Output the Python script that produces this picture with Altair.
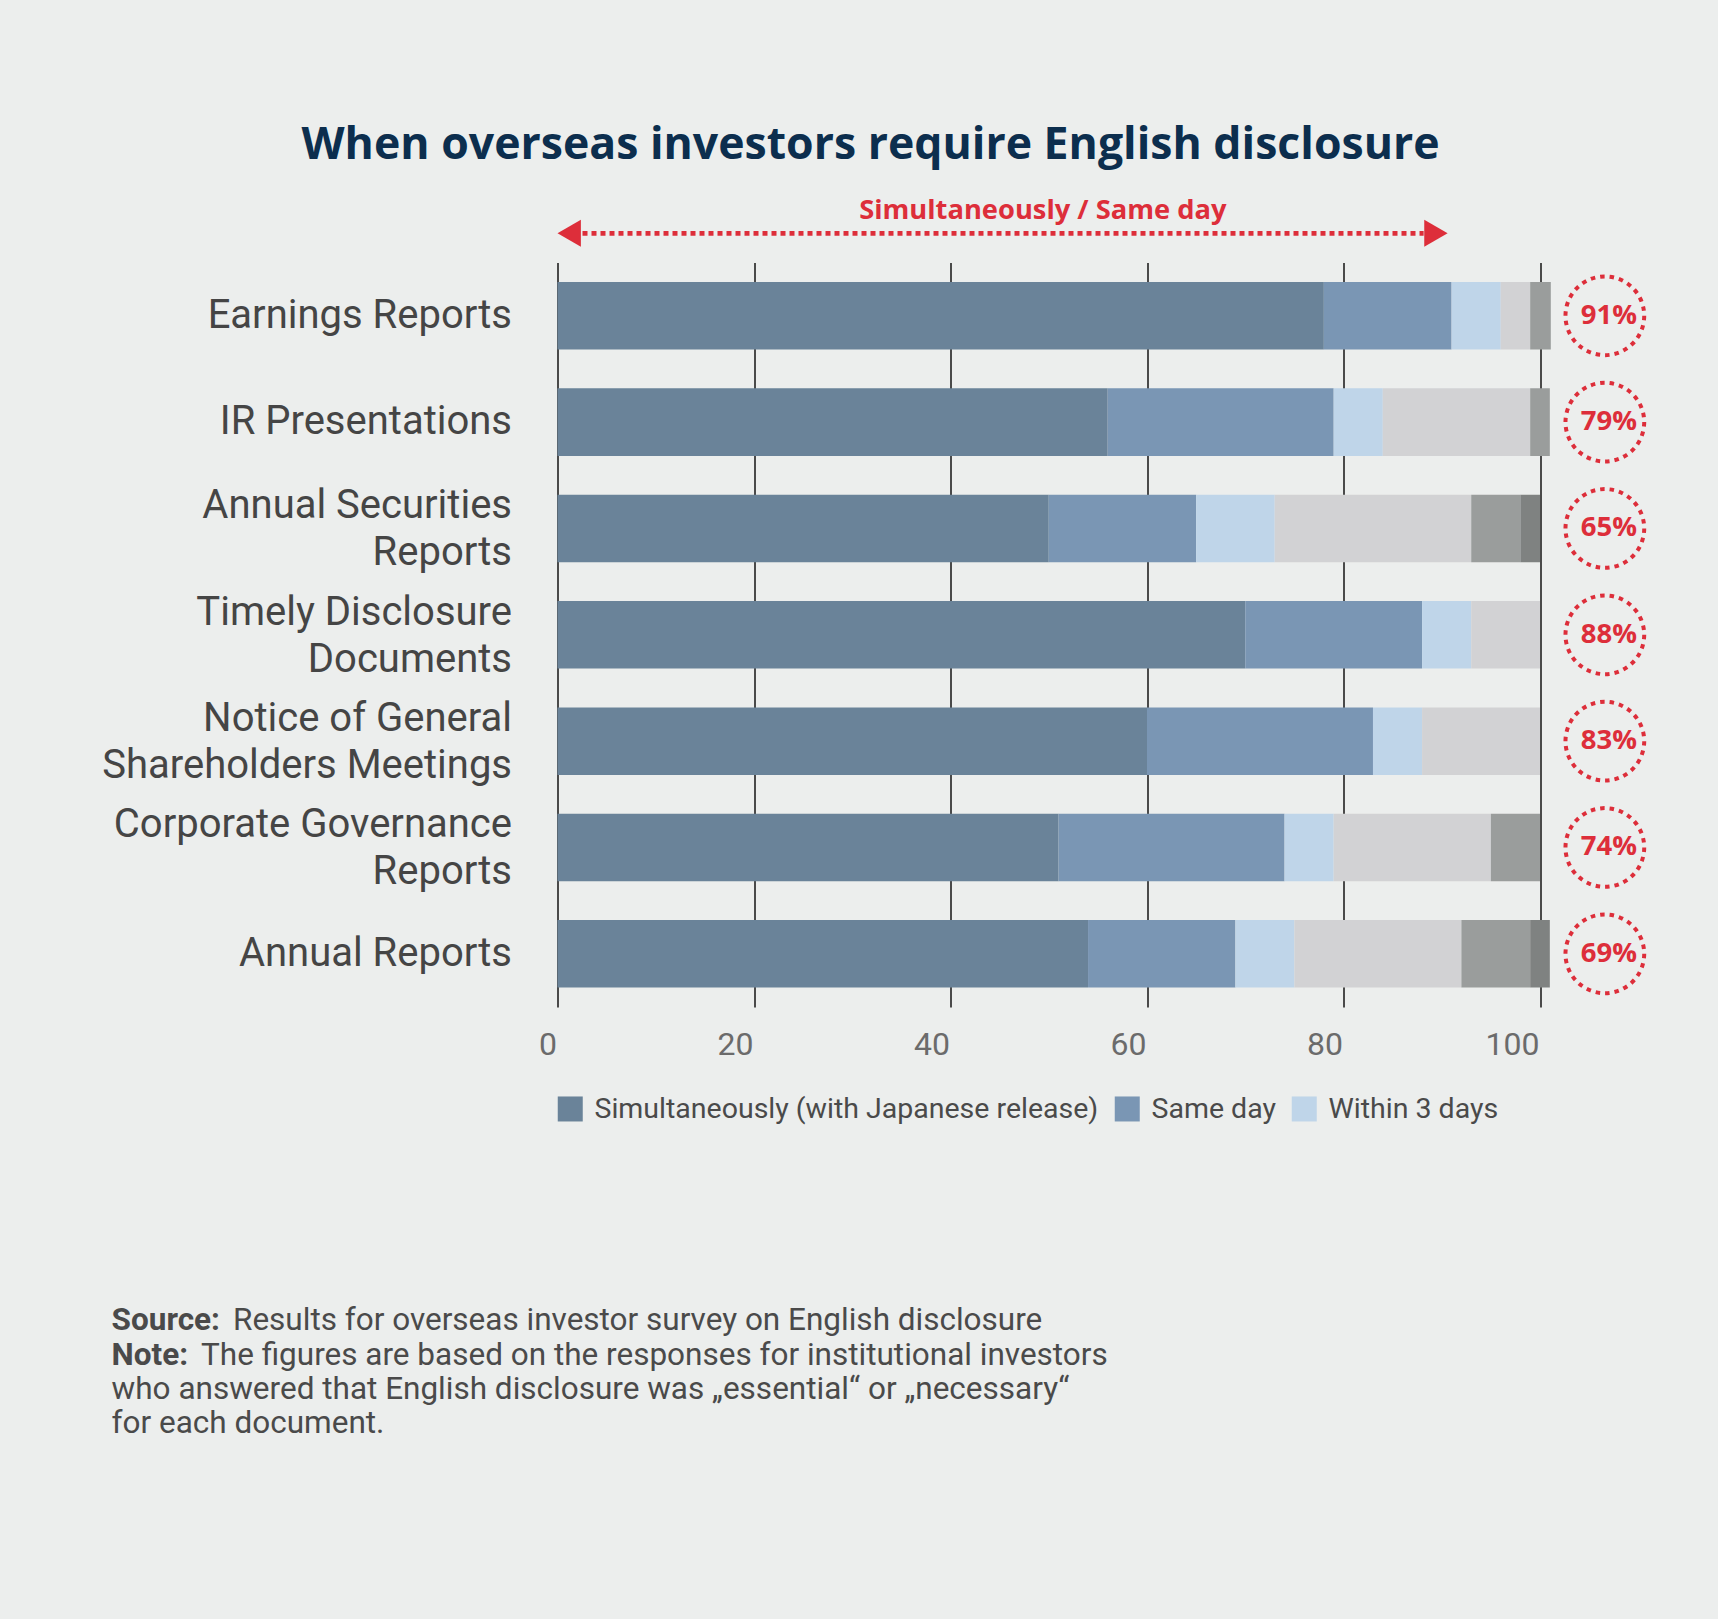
import altair as alt
import pandas as pd

# ---------------- data ----------------
categories = [
    "Earnings Reports",
    "IR Presentations",
    "Annual Securities\nReports",
    "Timely Disclosure\nDocuments",
    "Notice of General\nShareholders Meetings",
    "Corporate Governance\nReports",
    "Annual Reports",
]
segments = [
    "Simultaneously (with Japanese release)",
    "Same day",
    "Within 3 days",
    "Later (light grey)",
    "Later (grey)",
    "Later (dark grey)",
]
simultaneously = [78, 56, 50, 70, 60, 51, 54]
same_day = [13, 23, 15, 18, 23, 23, 15]
within_3_days = [5, 5, 8, 5, 5, 5, 6]
later_light = [3, 15, 20, 7, 12, 16, 17]
later_mid = [2.1, 2, 5, 0, 0, 5, 7]
later_dark = [0, 0, 2, 0, 0, 0, 2]
pct_labels = ["91%", "79%", "65%", "88%", "83%", "74%", "69%"]
x_ticks = [0, 20, 40, 60, 80, 100]
arrow_label = "Simultaneously / Same day"
arrow_span = [0, 90.6]
arrow_label_x = 49.4
badge_x = 106.6
title_text = "When overseas investors require English disclosure"
footnote_bold = ["Source:", "Note:"]
footnote_rest = [
    "Results for overseas investor survey on English disclosure",
    "The figures are based on the responses for institutional investors",
    "who answered that English disclosure was \u201eessential\u201c or \u201enecessary\u201c",
    "for each document.",
]

colors = ["#6a8399", "#7a96b4", "#bfd5e9", "#d2d2d4", "#9a9d9c", "#7f8281"]
RED = "#dd2e3a"
BG = "#eceeed"

series = [simultaneously, same_day, within_3_days, later_light, later_mid, later_dark]
rows = []
for si, (seg, vals) in enumerate(zip(segments, series)):
    for cat, v in zip(categories, vals):
        rows.append({"cat": cat, "segment": seg, "idx": si, "value": v})
bars_df = pd.DataFrame(rows)
pct_df = pd.DataFrame({"cat": categories, "label": pct_labels})

# ---------------- layout constants ----------------
W = 982.5
H = 744.4
PAD_L, PAD_T = 557.5, 262.6

xscale = alt.Scale(domain=[0, 100], nice=False, zero=True)
yscale = alt.Scale(domain=categories, paddingInner=0.365, paddingOuter=0.1825)

bars = alt.Chart(bars_df).mark_bar().encode(
    x=alt.X(
        "value:Q",
        stack="zero",
        scale=xscale,
        axis=alt.Axis(
            values=x_ticks,
            title=None,
            grid=True,
            gridColor="#4a4a4a",
            gridWidth=2,
            domain=False,
            ticks=False,
            tickSize=0,
            labelAlign="right",
            labelOffset=-1,
            labelPadding=22,
            labelFont="Roboto",
            labelFontSize=32,
            labelColor="#6b6b6b",
        ),
    ),
    y=alt.Y(
        "cat:N",
        sort=categories,
        scale=yscale,
        axis=alt.Axis(
            title=None,
            domain=False,
            ticks=False,
            tickSize=0,
            grid=False,
            labelFont="Roboto",
            labelFontSize=40,
            labelColor="#454545",
            labelPadding=46,
            labelLimit=0,
            labelLineHeight=47,
            labelExpr="split(datum.label, '\\n')",
            labelOffset=alt.condition(
                "indexof(datum.value, '\\n') >= 0", alt.value(-22), alt.value(0)
            ),
        ),
    ),
    color=alt.Color(
        "segment:N",
        scale=alt.Scale(domain=segments, range=colors),
        legend=alt.Legend(
            values=segments[:3],
            orient="none",
            legendX=-1.5,
            legendY=832,
            direction="horizontal",
            columns=3,
            title=None,
            symbolType="square",
            symbolSize=625,
            symbolStrokeWidth=0,
            symbolOpacity=1,
            labelFont="Roboto",
            labelFontSize=28.5,
            labelColor="#4a4a4a",
            labelOffset=10,
            columnPadding=14,
            padding=0,
            labelLimit=0,
        ),
    ),
    order=alt.Order("idx:Q", sort="ascending"),
)

badges = alt.Chart(pct_df).mark_point(
    shape="circle", size=6200, filled=False, stroke=RED, strokeWidth=4,
    strokeDash=[4.5, 5], opacity=1,
).encode(x=alt.datum(badge_x), y=alt.Y("cat:N", sort=categories))

badge_text = alt.Chart(pct_df).mark_text(
    font="Open Sans", fontWeight="bold", fontSize=27.5, color=RED, dx=4, baseline="middle",
).encode(x=alt.datum(badge_x), y=alt.Y("cat:N", sort=categories), text="label:N")

one = pd.DataFrame({"a": [arrow_span[0]], "b": [arrow_span[1]], "t": [arrow_label]})
arrow_line = alt.Chart(one).mark_rule(
    color=RED, strokeWidth=4.7, strokeDash=[5, 4], xOffset=25, x2Offset=-24,
).encode(x="a:Q", x2="b:Q", y=alt.value(-29.3))
arrow_left = alt.Chart(one).mark_point(
    shape="triangle-left", size=729, filled=True, color=RED, opacity=1, strokeWidth=0, xOffset=11.7,
).encode(x="a:Q", y=alt.value(-29.3))
arrow_right = alt.Chart(one).mark_point(
    shape="triangle-right", size=729, filled=True, color=RED, opacity=1, strokeWidth=0, xOffset=-11.7,
).encode(x="b:Q", y=alt.value(-29.3))
arrow_text = alt.Chart(one).mark_text(
    font="Open Sans", fontWeight="bold", fontSize=27.3, color=RED, align="center", baseline="alphabetic",
).encode(x=alt.datum(arrow_label_x), y=alt.value(-43.3), text="t:N")

# footnote
FN_X = 111.6 - PAD_L
fn_baselines = [1330, 1365, 1399.3, 1433.3]
fn_layers = []
fn_specs = [
    (footnote_bold[0], FN_X, fn_baselines[0], "bold"),
    (footnote_rest[0], 233 - PAD_L, fn_baselines[0], "normal"),
    (footnote_bold[1], FN_X, fn_baselines[1], "bold"),
    (footnote_rest[1], 201 - PAD_L, fn_baselines[1], "normal"),
    (footnote_rest[2], FN_X, fn_baselines[2], "normal"),
    (footnote_rest[3], FN_X, fn_baselines[3], "normal"),
]
for txt, fx, fy, fw in fn_specs:
    fn_layers.append(
        alt.Chart(pd.DataFrame({"t": [txt]})).mark_text(
            font="Roboto", fontSize=31.5, fontWeight=fw, color="#4a4a4a",
            align="left", baseline="alphabetic",
        ).encode(x=alt.value(fx), y=alt.value(fy - PAD_T), text="t:N")
    )

chart = alt.layer(
    bars, badges, badge_text, arrow_line, arrow_left, arrow_right, arrow_text, *fn_layers
).properties(
    width=W,
    height=H,
    title=alt.TitleParams(
        title_text, font="Open Sans", fontSize=44.6, fontWeight="bold", color="#0c2e4e",
        anchor="start", frame="group", dx=-256, offset=29,
    ),
    background=BG,
    padding={"left": PAD_L, "top": PAD_T, "right": 1718 - PAD_L - W, "bottom": 1619 - PAD_T - H},
    autosize=alt.AutoSizeParams(type="none"),
).configure_view(stroke=None)

chart.save("out.html", embed_options={"renderer": "svg", "actions": False})
